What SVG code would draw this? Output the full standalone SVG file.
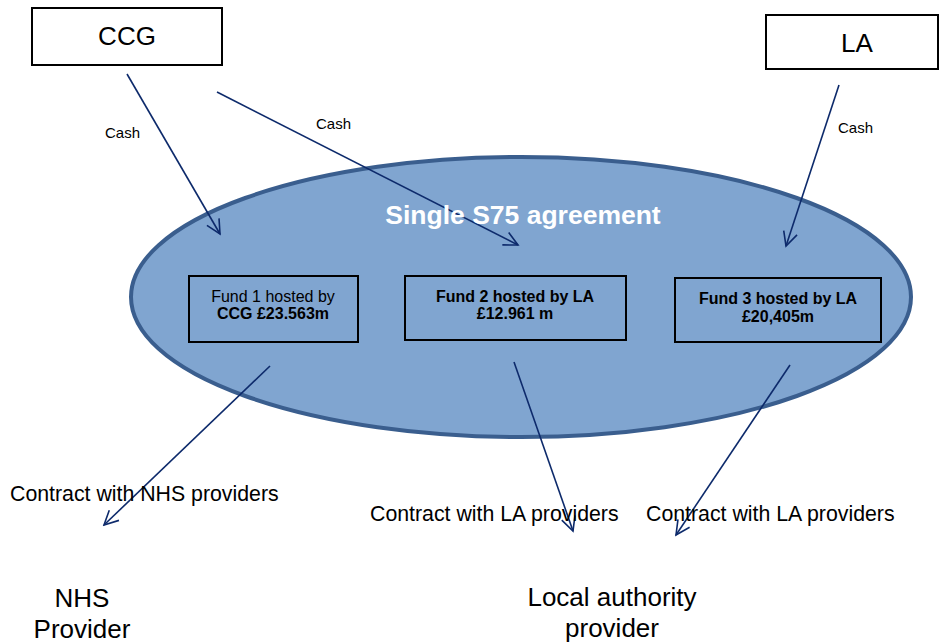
<svg xmlns="http://www.w3.org/2000/svg" width="940" height="644" viewBox="0 0 940 644">
<style>
text{font-family:"Liberation Sans",Arial,sans-serif;fill:#000}
.box{fill:#fff;stroke:#000;stroke-width:2}
.fund{fill:none;stroke:#000;stroke-width:2}
.c{text-anchor:middle}
.b{font-weight:bold}
.arr{stroke:#0d2a6b;stroke-width:1.6;fill:none;marker-end:url(#ah)}
</style>
<defs>
<marker id="ah" viewBox="-16 -9 18 18" markerWidth="18" markerHeight="18" refX="0" refY="0" orient="auto" markerUnits="userSpaceOnUse">
<polyline points="-14,-7 0,0 -14,7" fill="none" stroke="#0d2a6b" stroke-width="1.6"/>
</marker>
</defs>
<rect width="940" height="644" fill="#fff"/>
<g id="ellipse">
<ellipse cx="521" cy="297" rx="390" ry="140" fill="#80a5d0" stroke="#3a5e8e" stroke-width="4"/>
</g>
<g id="ccg">
<rect x="32" y="8" width="190" height="57" class="box"/>
<text x="127" y="45" class="c" style="font-size:26px">CCG</text>
</g>
<g id="la">
<rect x="766" y="15" width="172" height="54" class="box"/>
<text x="857" y="52" class="c" style="font-size:26px">LA</text>
</g>
<g id="fund1">
<rect x="189" y="276" width="169" height="66" class="fund"/>
<text x="273" y="302" class="c" style="font-size:16px">Fund 1 hosted by</text>
<text x="273" y="319" class="c b" style="font-size:16px">CCG £23.563m</text>
</g>
<g id="fund2">
<rect x="405" y="276" width="221" height="64" class="fund"/>
<text x="515" y="302" class="c b" style="font-size:16px">Fund 2 hosted by LA</text>
<text x="515" y="319" class="c b" style="font-size:16px">£12.961 m</text>
</g>
<g id="fund3">
<rect x="675" y="278" width="206" height="64" class="fund"/>
<text x="778" y="304" class="c b" style="font-size:16px">Fund 3 hosted by LA</text>
<text x="778" y="322" class="c b" style="font-size:16px">£20,405m</text>
</g>
<g id="connectors">
<line x1="127" y1="74" x2="220" y2="234" class="arr"/>
<line x1="217" y1="92" x2="518" y2="245" class="arr"/>
<line x1="839" y1="85" x2="786" y2="246" class="arr"/>
<line x1="270" y1="366" x2="104" y2="525" class="arr"/>
<line x1="514" y1="362" x2="573" y2="531" class="arr"/>
<line x1="790" y1="365" x2="676" y2="535" class="arr"/>
</g>
<g id="title">
<text x="523" y="224" class="c b" style="font-size:26.5px;fill:#fff">Single S75 agreement</text>
</g>
<g id="labels">
<text x="105" y="138" style="font-size:15px">Cash</text>
<text x="316" y="129" style="font-size:15px">Cash</text>
<text x="838" y="133" style="font-size:15px">Cash</text>
<text x="10" y="501" style="font-size:21.3px">Contract with NHS providers</text>
<text x="370" y="521" style="font-size:21.3px">Contract with LA providers</text>
<text x="646" y="521" style="font-size:21.3px">Contract with LA providers</text>
</g>
<g id="nhs-provider">
<text x="82" y="607" class="c" style="font-size:26px">NHS</text>
<text x="82" y="638" class="c" style="font-size:26px">Provider</text>
</g>
<g id="la-provider">
<text x="612" y="606" class="c" style="font-size:26px">Local authority</text>
<text x="612" y="637" class="c" style="font-size:26px">provider</text>
</g>
</svg>
